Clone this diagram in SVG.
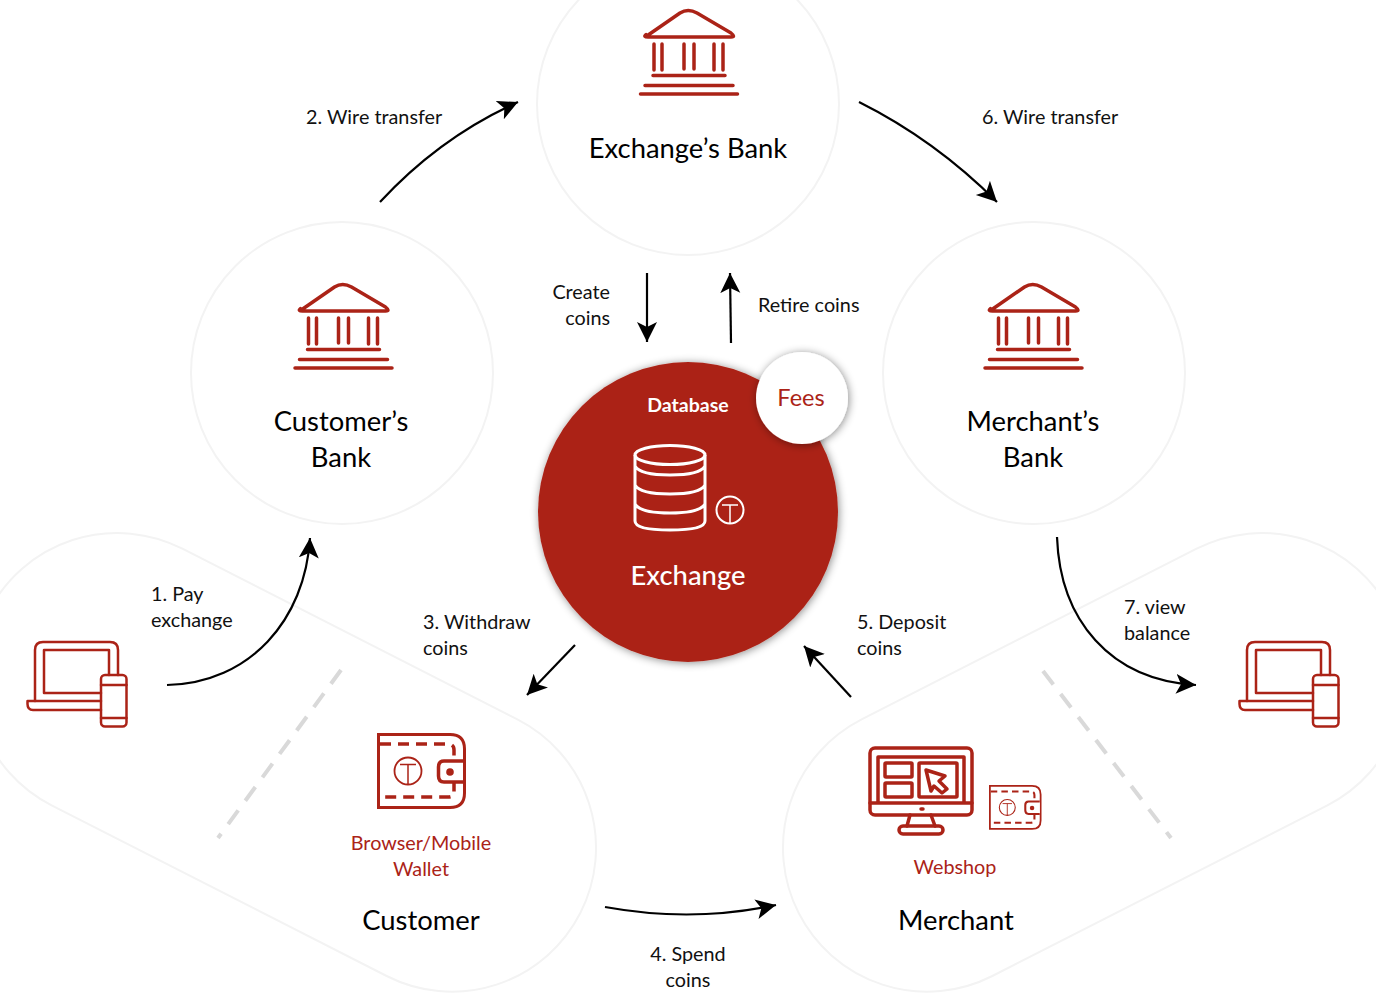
<svg xmlns="http://www.w3.org/2000/svg" width="1376" height="995" viewBox="0 0 1376 995">
<style>
text{font-family:"Lato","Liberation Sans",sans-serif}
.big{font-size:27.400px;fill:#000;text-anchor:middle}
.lab{font-size:19.800px;fill:#111}
.mid{text-anchor:middle}
.red{fill:#ab2317}
.bg{fill:#fff;stroke:#f3f3f3;stroke-width:2}
.ic{fill:none;stroke:#ab2317;stroke-linecap:round;stroke-linejoin:round}
.conn{fill:none;stroke:#000;stroke-width:2.200;marker-end:url(#ah)}
.dash{fill:none;stroke:#d9d9d9;stroke-width:4;stroke-dasharray:17 12}
</style>
<defs>
<marker id="ah" markerUnits="userSpaceOnUse" markerWidth="24" markerHeight="22" refX="20" refY="10" orient="auto">
<path d="M0 0L20 10L0 20L5 10Z" fill="#000"/>
</marker>
<filter id="sh" x="-20%" y="-20%" width="140%" height="140%"><feDropShadow dx="1" dy="1" stdDeviation="4" flood-color="#000" flood-opacity=".45"/></filter>
<g id="bank" class="ic" stroke-width="3.500">
<path d="M646 36.500L680 13Q688 8 697 13L731 33Q736 37 731 37H648Q643 37 646 34.500Z"/>
<path d="M654 44V70M662 44V70M684 44V69M694 44V69M714 44V70M723 44V70M653 75.500H725M645 85.500H733M640.500 94H737.500"/>
</g>
<g id="device" class="ic" stroke-width="2.500">
<path d="M35 701V650Q35 642 43 642H110Q118 642 118 650V675"/>
<path d="M109 675V650H44V693H101"/>
<path d="M101 701H27.500V704Q27.500 710 33 710H101"/>
<rect x="101" y="675" width="25.500" height="51.500" rx="4"/>
<path d="M101 685H126.500M101 718H126.500"/>
</g>
<g id="wallet" fill="none" stroke="#ab2317">
<path d="M378.500 734.500H450Q464.500 734.500 464.500 749V793Q464.500 807.500 450 807.500H378.500Z" stroke-width="3"/>
<path d="M380 744H448Q454 744 454 750V792Q454 797 448 797H380" stroke-width="3.500" stroke-dasharray="11 7"/>
<path d="M463 761H444Q438.500 761 438.500 767V776Q438.500 782 444 782H463" stroke-width="3.500" fill="#fff"/>
<circle cx="450" cy="772" r="3.800" fill="#ab2317" stroke="none"/>
<circle cx="408" cy="771" r="13.500" stroke-width="1.800"/>
<path d="M400 764.500H416M408 764.500V784" stroke-width="1.500"/>
</g>
</defs>
<rect width="1376" height="995" fill="#fff"/>
<g id="customer-zone">
<rect class="bg" transform="translate(117 677) rotate(27)" x="-144" y="-144" width="664" height="288" rx="144"/>
<path class="dash" d="M341 670L218 838"/>
</g>
<g id="merchant-zone">
<rect class="bg" transform="translate(1262 677) rotate(153)" x="-144" y="-144" width="664" height="288" rx="144"/>
<path class="dash" d="M1043 671L1171 838"/>
</g>
<g id="exchange-bank">
<circle class="bg" cx="688" cy="104" r="151"/>
<use href="#bank"/>
<text class="big" x="688" y="158">Exchange’s Bank</text>
</g>
<g id="customer-bank">
<circle class="bg" cx="342" cy="373" r="151"/>
<use href="#bank" x="-345.500" y="274"/>
<text class="big" x="341" y="431">Customer’s</text>
<text class="big" x="341" y="467">Bank</text>
</g>
<g id="merchant-bank">
<circle class="bg" cx="1034" cy="373" r="151"/>
<use href="#bank" x="344.500" y="274"/>
<text class="big" x="1033" y="431">Merchant’s</text>
<text class="big" x="1033" y="467">Bank</text>
</g>
<g id="exchange">
<circle cx="688" cy="512" r="150" fill="#ab2317" filter="url(#sh)"/>
<text x="688" y="412" font-size="19.500" font-weight="700" fill="#fff" text-anchor="middle">Database</text>
<g fill="none" stroke="#fff" stroke-width="3">
<ellipse cx="670" cy="455" rx="35" ry="9.500"/>
<path d="M635 455V521Q635 530 670 530Q705 530 705 521V455M635 466Q640 475 670 475Q700 475 705 466M635 485Q640 494 670 494Q700 494 705 485M635 504Q640 513 670 513Q700 513 705 504"/>
<circle cx="730" cy="510" r="13.500" stroke-width="2"/>
<path d="M722 505H738M730 505V523" stroke-width="1.500"/>
</g>
<text x="688" y="585" font-size="27.400" font-weight="500" fill="#fff" text-anchor="middle">Exchange</text>
</g>
<g id="fees">
<circle cx="802" cy="398" r="46" fill="#fff" filter="url(#sh)"/>
<text class="red mid" x="801" y="406" font-size="23.500">Fees</text>
</g>
<g id="customer-device"><use href="#device"/></g>
<g id="merchant-device"><use href="#device" x="1212"/></g>
<g id="customer">
<use href="#wallet"/>
<text class="red mid" x="421" y="850" font-size="19.800">Browser/Mobile</text>
<text class="red mid" x="421" y="876" font-size="19.800">Wallet</text>
<text class="big" x="421" y="930">Customer</text>
</g>
<g id="merchant">
<g class="ic" stroke-width="3.500">
<rect x="870" y="748" width="102" height="67" rx="5"/>
<path d="M870 803H972M878 803V757H964V803"/>
<rect x="885" y="763" width="27" height="14" rx="1"/>
<rect x="885" y="783" width="27" height="14" rx="1"/>
<rect x="919" y="763" width="38" height="34" rx="1"/>
<path d="M926 770L945 776L939 781L947 789L942 793L934 786L931 791Z"/>
<path d="M910 815L907 826M931 815L935 826"/>
<rect x="899" y="826" width="44" height="8" rx="4"/>
<path d="M921 809H923"/>
</g>
<use href="#wallet" transform="translate(989 785) scale(.59) translate(-377 -733)"/>
<text class="red mid" x="955" y="874" font-size="19.800">Webshop</text>
<text class="big" x="956" y="930">Merchant</text>
</g>
<g id="connectors">
<path class="conn" d="M380 202Q440 137 518 102"/>
<path class="conn" d="M859 102Q935 140 997 202"/>
<path class="conn" d="M647 273V342"/>
<path class="conn" d="M731 343L730 273"/>
<path class="conn" d="M167 685C250 683 305 620 310 538"/>
<path class="conn" d="M575 645L527 695"/>
<path class="conn" d="M851 697L804 646"/>
<path class="conn" d="M605 907C660 917 720 917 776 905"/>
<path class="conn" d="M1057 537C1060 620 1110 680 1196 685"/>
</g>
<g id="labels">
<text class="lab" x="306" y="124">2. Wire transfer</text>
<text class="lab" x="982" y="124">6. Wire transfer</text>
<text class="lab" x="610" y="299" text-anchor="end">Create</text>
<text class="lab" x="610" y="325" text-anchor="end">coins</text>
<text class="lab" x="758" y="312">Retire coins</text>
<text class="lab" x="151" y="601">1. Pay</text>
<text class="lab" x="151" y="627">exchange</text>
<text class="lab" x="423" y="629">3. Withdraw</text>
<text class="lab" x="423" y="655">coins</text>
<text class="lab" x="857" y="629">5. Deposit</text>
<text class="lab" x="857" y="655">coins</text>
<text class="lab" x="1124" y="614">7. view</text>
<text class="lab" x="1124" y="640">balance</text>
<text class="lab mid" x="688" y="961">4. Spend</text>
<text class="lab mid" x="688" y="987">coins</text>
</g>
</svg>
